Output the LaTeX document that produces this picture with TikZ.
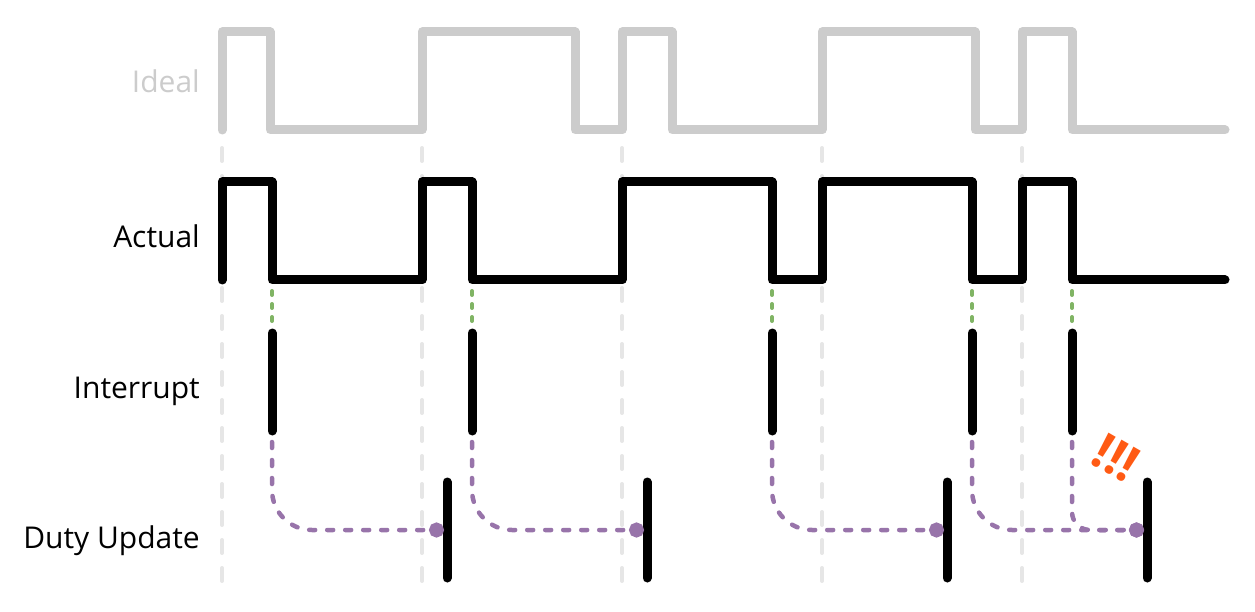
\documentclass[tikz,border=0pt]{standalone}
\usepackage{fontspec}
\setmainfont{Open Sans}
\usetikzlibrary{arrows.meta}
\definecolor{idealgray}{RGB}{204,204,204}
\definecolor{gridgray}{RGB}{230,230,230}
\definecolor{irqgreen}{RGB}{128,180,100}
\definecolor{updpurple}{RGB}{152,116,170}
\definecolor{alertorange}{RGB}{255,90,20}

\begin{document}
\begin{tikzpicture}[x=1pt,y=-1pt,line cap=round,line join=round,
  wave/.style={line width=9pt},
  pulse/.style={line width=9pt},
  lbl/.style={anchor=base east,inner sep=0pt,font=\fontsize{30}{32}\selectfont},
  link/.style={updpurple,line width=4.5pt,dash pattern=on 6pt off 12pt,-{Circle[length=15pt]}}]
  \useasboundingbox (0,0) rectangle (1255,612);

  % period boundaries
  \foreach \x in {222,422,622,822,1022}
    \draw[gridgray,line width=4pt,dash pattern=on 13pt off 15pt] (\x,148) -- (\x,582);

  % labels
  \node[lbl,idealgray] (ideal) at (200,93) {Ideal};
  \node[lbl] (actual) at (200,248) {Actual};
  \node[lbl] (irq) at (200,398) {Interrupt};
  \node[lbl] (upd) at (200,548) {Duty Update};

  % waveforms
  \draw[idealgray,wave] (222,130) -- (222,32) -- (270,32) -- (270,130) -- (422,130)
    -- (422,32) -- (575,32) -- (575,130) -- (622,130) -- (622,32) -- (672,32) -- (672,130)
    -- (822,130) -- (822,32) -- (975,32) -- (975,130) -- (1022,130) -- (1022,32)
    -- (1072,32) -- (1072,130) -- (1225,130);
  \draw[wave] (222,280) -- (222,182) -- (272,182) -- (272,280) -- (422,280)
    -- (422,182) -- (472,182) -- (472,280) -- (622,280) -- (622,182) -- (772,182) -- (772,280)
    -- (822,280) -- (822,182) -- (972,182) -- (972,280) -- (1022,280) -- (1022,182)
    -- (1072,182) -- (1072,280) -- (1225,280);

  % interrupts
  \foreach \x [count=\i] in {272,472,772,972,1072} {
    \coordinate (edge\i) at (\x,291);
    \coordinate (irqtop\i) at (\x,333);
    \coordinate (irqbot\i) at (\x,431);
    \coordinate (irqout\i) at (\x,442);
    \draw[irqgreen,line width=4pt,dash pattern=on 4pt off 9pt] (edge\i) -- ([yshift=5pt]irqtop\i);
    \draw[pulse] (irqtop\i) -- (irqbot\i);
  }

  % duty updates
  \foreach \x [count=\i] in {447,647,947,1147} {
    \coordinate (updtop\i) at (\x,482);
    \coordinate (updbot\i) at (\x,578);
    \coordinate (updin\i) at (\x-3,530);
    \draw[pulse] (updtop\i) -- (updbot\i);
  }

  \draw[link,rounded corners=40pt] (irqout1) |- (updin1);
  \draw[link,rounded corners=40pt] (irqout2) |- (updin2);
  \draw[link,rounded corners=40pt] (irqout3) |- (updin3);
  \draw[link,rounded corners=40pt] (irqout4) |- (updin4);
  \draw[link,rounded corners=18pt] (irqout5) |- (updin4);

  \node[alertorange,rotate=-30,inner sep=0pt,font=\fontsize{50}{50}\selectfont\bfseries] (alert) at (1116,458) {!!!};
\end{tikzpicture}
\end{document}
